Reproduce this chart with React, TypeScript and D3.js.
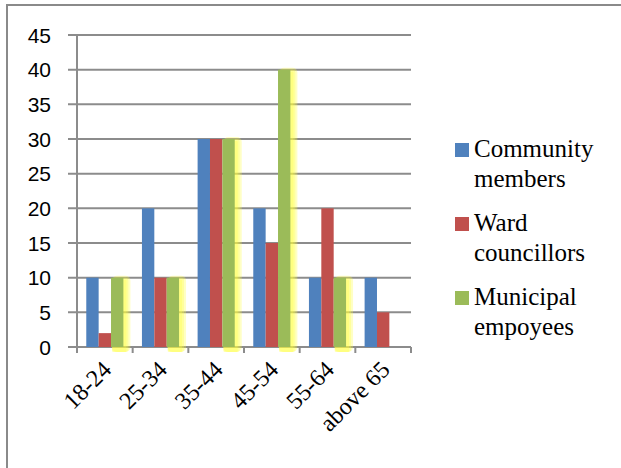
import React from 'react';
import * as d3 from 'd3';

const categories = ['18-24', '25-34', '35-44', '45-54', '55-64', 'above 65'];
const legendLines = [['Community', 'members'], ['Ward', 'councillors'], ['Municipal', 'empoyees']];
const community = [10, 20, 30, 20, 10, 10];
const ward = [2, 10, 30, 15, 20, 5];
const municipal = [10, 10, 30, 40, 10, 0];
const yTicks = [0, 5, 10, 15, 20, 25, 30, 35, 40, 45];
const colors = ['#4F81BD', '#C0504D', '#9BBB59'];

const left = 77, right = 411, top = 35, bottom = 347;

const App: React.FC = () => {
    const x = d3.scaleBand().domain(categories).range([left, right]).padding(0);
    const y = d3.scaleLinear().domain([0, 45]).range([bottom, top]);
    const barW = x.bandwidth() / 4.5;
    const offset = x.bandwidth() * 0.75 / 4.5;
    const series = [community, ward, municipal];

    return (
        <svg width={621} height={468} style={{ position: 'absolute', left: 0, top: 0, background: '#fff' }}>
            {/* outer frame */}
            <rect x={7} y={5} width={640} height={500} fill="none" stroke="#8a8a8a" strokeWidth={2} />

            {/* gridlines */}
            {yTicks.map(t => (
                <line key={t} x1={left - 9} x2={right} y1={y(t)} y2={y(t)} stroke="#8c8c8c" strokeWidth={2} />
            ))}
            <line x1={left} x2={left} y1={top} y2={bottom + 6} stroke="#8c8c8c" strokeWidth={2} />
            {categories.map(c => (
                <line key={c} x1={(x(c) as number) + x.bandwidth()} x2={(x(c) as number) + x.bandwidth()}
                    y1={bottom} y2={bottom + 6} stroke="#8c8c8c" strokeWidth={2} />
            ))}

            {/* y labels */}
            {yTicks.map(t => (
                <text key={t} x={51} y={y(t)} dy="0.36em" textAnchor="end" fontSize={21}
                    style={{ fontFamily: '"Liberation Sans"' }}>{t}</text>
            ))}

            {/* yellow glow behind green bars */}
            {municipal.map((v, i) => v > 0 && [5, 3, 1].map(g => (
                <rect key={`${i}-${g}`} opacity={0.3} fill="#ffff40" rx={g}
                    x={(x(categories[i]) as number) + offset + 2 * barW + 1}
                    y={y(v) + 3 - g} width={barW + g + 1} height={y(0) - y(v) + g + 2} />
            )))}

            {/* bars */}
            {series.map((vals, si) => (
                <g key={si}>
                    {vals.map((v, i) => (
                        <rect key={i}
                            x={(x(categories[i]) as number) + offset + si * barW}
                            y={y(v)} width={barW} height={y(0) - y(v)} fill={colors[si]} />
                    ))}
                </g>
            ))}

            {/* x labels */}
            {categories.map(c => (
                <text key={c} textAnchor="end" fontSize={24} style={{ fontFamily: '"Liberation Serif"' }}
                    transform={`translate(${(x(c) as number) + x.bandwidth() / 2 + 8},${bottom + 24}) rotate(-45)`}>
                    {c}
                </text>
            ))}

            {/* legend */}
            {legendLines.map((lines, i) => {
                const by = 157 + i * 74;
                return (
                    <g key={i}>
                        <rect x={455} y={by - 14} width={14} height={14} fill={colors[i]} />
                        {lines.map((t, j) => (
                            <text key={j} x={474} y={by + j * 30} fontSize={25}
                                style={{ fontFamily: '"Liberation Serif"' }}>{t}</text>
                        ))}
                    </g>
                );
            })}
        </svg>
    );
};

export default App;
